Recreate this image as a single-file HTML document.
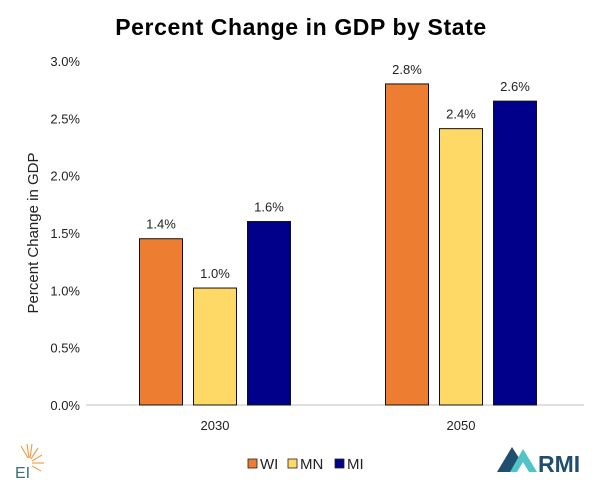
<!DOCTYPE html>
<html><head><meta charset="utf-8"><style>
body{margin:0;background:#fff;width:602px;height:481px;overflow:hidden;font-family:"Liberation Sans",sans-serif}
svg text{font-family:"Liberation Sans",sans-serif}
</style></head><body>
<svg id="c" width="602" height="481">
<text x="301" y="35" text-anchor="middle" font-size="23" font-weight="bold" letter-spacing="0.6" fill="#000">Percent Change in GDP by State</text>
<text transform="translate(38,233) rotate(-90)" text-anchor="middle" font-size="15" fill="#222">Percent Change in GDP</text>
<g id="ax"></g><g id="bars"></g>
<g>
<rect x="248" y="459" width="9" height="9" fill="#ED7D31" stroke="#222" stroke-width="0.8"/>
<text x="260" y="469" font-size="15" fill="#222">WI</text>
<rect x="288" y="459" width="9" height="9" fill="#FFD966" stroke="#222" stroke-width="0.8"/>
<text x="300" y="469" font-size="15" fill="#222">MN</text>
<rect x="335" y="459" width="9" height="9" fill="#00008B" stroke="#222" stroke-width="0.8"/>
<text x="347" y="469" font-size="15" fill="#222">MI</text>
</g>
<g>
<g stroke="#F0A050" stroke-width="1.2">
<line x1="28" y1="458" x2="21" y2="446"/><line x1="29" y1="458" x2="27" y2="444"/><line x1="30" y1="458" x2="32" y2="444"/><line x1="31" y1="459" x2="38" y2="448"/><line x1="32" y1="461" x2="42" y2="455"/><line x1="32" y1="463" x2="44" y2="463"/><line x1="32" y1="466" x2="41" y2="471"/></g>
<text x="15" y="478" font-size="16" fill="#3C6E80">EI</text>
</g>
<g>
<polygon points="497,472 512,447 519,458 512,472" fill="#1F4E6E"/>
<polygon points="510,472 523,449 537,472 529,472 523,462 517,472" fill="#4FC3C8"/>
<text x="538" y="472" font-size="23" font-weight="bold" fill="#1F4E6E">RMI</text>
</g>
</svg>
<script>
const categories=["2030","2050"];
const series=["WI","MN","MI"];
const colors=["#ED7D31","#FFD966","#00008B"];
const wiValues=[1.45,2.80];
const mnValues=[1.02,2.41];
const miValues=[1.60,2.65];
const valueLabels=[["1.4%","2.8%"],["1.0%","2.4%"],["1.6%","2.6%"]];
const yTicks=[0,0.5,1.0,1.5,2.0,2.5,3.0];
const yTickLabels=["0.0%","0.5%","1.0%","1.5%","2.0%","2.5%","3.0%"];
const NS="http://www.w3.org/2000/svg";
const y0=405,y1=61,ymax=3.0,xL=92,xR=584;
const y=v=>y0-(v/ymax)*(y0-y1);
const cw=(xR-xL)/categories.length;
const ax=document.getElementById('ax'),bg=document.getElementById('bars');
function mk(t,a,p){const e=document.createElementNS(NS,t);for(const k in a)e.setAttribute(k,a[k]);p.appendChild(e);return e;}
yTicks.forEach((t,i)=>{const e=mk('text',{x:80,y:y(t)+5,'text-anchor':'end','font-size':13,fill:'#222'},ax);e.textContent=yTickLabels[i];

});
const al=mk('line',{x1:86,x2:584,y1:y0,y2:y0,stroke:'#BFBFBF','stroke-width':1},ax);


categories.forEach((c,i)=>{const e=mk('text',{x:xL+cw*(i+0.5),y:y0+25,'text-anchor':'middle','font-size':13,fill:'#222'},ax);e.textContent=c;

});
const all=[wiValues,mnValues,miValues];
const bw=43,gap=10;
all.forEach((vals,s)=>{vals.forEach((v,i)=>{
const cx=xL+cw*(i+0.5)+(s-1)*(bw+gap+1);
const r=mk('rect',{x:cx-bw/2,y:y(v),width:bw,height:y0-y(v),fill:colors[s],stroke:'#111','stroke-width':1},bg);


const t=mk('text',{x:cx,y:y(v)-10,'text-anchor':'middle','font-size':13,fill:'#222'},bg);t.textContent=valueLabels[s][i];


});});
</script>
</body></html>
